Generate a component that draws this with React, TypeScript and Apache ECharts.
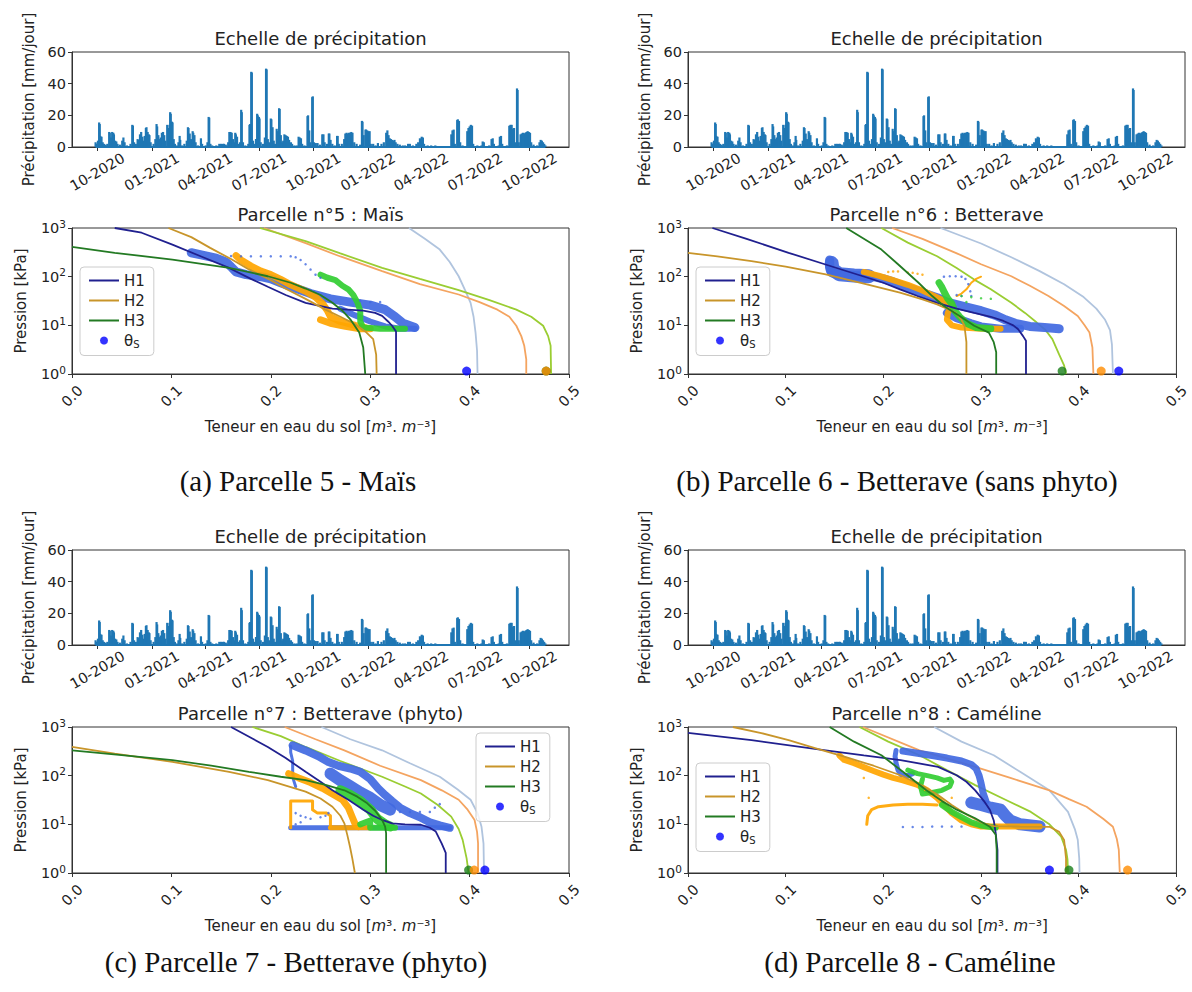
import React, { useEffect, useRef } from "react";
import * as echarts from "echarts";

type Pt = [number, number];

// ---------------- Precipitation (mm/jour), same series in the four panels ----------------
const PRECIP: [string, number][] = [
  ["2020-09-28",3],["2020-09-30",2],["2020-10-02",4],["2020-10-04",15.5],["2020-10-05",14.5],["2020-10-06",7],["2020-10-08",6.5],["2020-10-10",3],["2020-10-12",2],["2020-10-15",1.5],["2020-10-18",2],["2020-10-21",9.5],["2020-10-22",9],["2020-10-24",6],["2020-10-26",9.5],["2020-10-28",9],["2020-10-29",8],["2020-10-31",4],["2020-11-02",3.5],["2020-11-04",2],["2020-11-08",1.5],["2020-11-12",4],["2020-11-14",6],["2020-11-16",3],["2020-11-20",1],["2020-11-26",2],["2020-11-29",14],["2020-11-30",13.5],["2020-12-02",3],["2020-12-05",2],["2020-12-08",5],["2020-12-10",4.5],["2020-12-12",8],["2020-12-14",9.5],["2020-12-16",6.5],["2020-12-18",4],["2020-12-20",7],["2020-12-22",12],["2020-12-23",12.5],["2020-12-25",9.5],["2020-12-27",8],["2020-12-28",7.5],["2020-12-30",3],
  ["2021-01-04",2],["2021-01-07",5],["2021-01-09",14.5],["2021-01-10",13],["2021-01-12",7.5],["2021-01-14",5],["2021-01-16",6],["2021-01-18",9],["2021-01-20",9.5],["2021-01-22",7.5],["2021-01-24",4],["2021-01-27",14],["2021-01-29",12],["2021-01-31",14],["2021-02-01",22],["2021-02-02",21],["2021-02-04",16],["2021-02-05",15.5],["2021-02-07",5],["2021-02-09",2],["2021-02-12",1],["2021-02-15",3],["2021-02-17",7],["2021-02-18",4.5],["2021-02-21",1],["2021-02-25",2],["2021-03-01",4],["2021-03-03",12.5],["2021-03-04",12],["2021-03-06",8.5],["2021-03-08",5],["2021-03-11",10],["2021-03-12",9],["2021-03-14",7.5],["2021-03-16",3],["2021-03-20",1],["2021-03-25",5.5],["2021-03-27",2],["2021-04-02",1],["2021-04-05",3],["2021-04-07",19],["2021-04-08",18.5],["2021-04-10",2],["2021-04-13",1],
  ["2021-04-20",1],["2021-04-25",2],["2021-04-28",2],["2021-05-01",2],["2021-05-03",2],["2021-05-06",1.5],["2021-05-10",3],["2021-05-12",9.5],["2021-05-14",9.5],["2021-05-16",9],["2021-05-18",5],["2021-05-20",3],["2021-05-22",9],["2021-05-23",8],["2021-05-25",6.5],["2021-05-27",2],["2021-05-30",3],["2021-06-01",23.5],["2021-06-02",22],["2021-06-04",3],["2021-06-08",1],["2021-06-13",2],["2021-06-15",14],["2021-06-16",14.5],["2021-06-18",47.5],["2021-06-19",47],["2021-06-21",4],["2021-06-23",2],["2021-06-26",5],["2021-06-28",21],["2021-06-29",20],["2021-07-01",19],["2021-07-02",18],["2021-07-04",3],["2021-07-08",2],["2021-07-11",6],["2021-07-13",49.5],["2021-07-14",49],["2021-07-16",5],["2021-07-18",3],["2021-07-21",18],["2021-07-22",17.5],["2021-07-24",12.5],["2021-07-26",4],["2021-07-28",2],["2021-07-31",11.5],["2021-08-02",10],["2021-08-04",24.5],["2021-08-05",24],["2021-08-07",7.5],["2021-08-09",3],["2021-08-11",4],["2021-08-13",8],["2021-08-15",7.5],["2021-08-17",7],["2021-08-19",6.5],["2021-08-21",4.5],["2021-08-24",3],["2021-08-26",2],["2021-08-30",1],["2021-09-03",1],["2021-09-06",6.5],["2021-09-08",6],["2021-09-10",5.5],["2021-09-12",2],["2021-09-16",1],["2021-09-21",19.5],["2021-09-22",20],["2021-09-24",10.5],["2021-09-26",3],["2021-09-29",31.5],["2021-09-30",32],["2021-10-02",3],["2021-10-05",2.5],["2021-10-08",2.5],["2021-10-12",1.5],["2021-10-16",8],["2021-10-18",8],["2021-10-20",3],["2021-10-24",2],["2021-10-27",8.5],["2021-10-28",8.5],["2021-10-30",4.5],["2021-11-02",2],["2021-11-06",1],["2021-11-10",7],["2021-11-11",7],["2021-11-13",2],["2021-11-18",2],["2021-11-22",5],["2021-11-24",8.5],["2021-11-26",9],["2021-11-28",8.5],["2021-11-30",9],["2021-12-02",9],["2021-12-04",9.5],["2021-12-06",9],["2021-12-09",3],["2021-12-13",2],["2021-12-19",1.5],["2021-12-22",16.5],["2021-12-23",16],["2021-12-25",7.5],["2021-12-28",11],["2021-12-29",11],["2021-12-31",10.5],
  ["2022-01-02",10],["2022-01-04",10],["2022-01-06",2],["2022-01-10",2],["2022-01-14",1],["2022-01-18",2.5],["2022-01-24",2],["2022-01-28",3],["2022-02-01",9],["2022-02-03",10.5],["2022-02-05",7.5],["2022-02-07",5.5],["2022-02-09",5],["2022-02-11",4.5],["2022-02-13",4],["2022-02-15",4.5],["2022-02-17",3],["2022-02-20",2],["2022-02-24",1.5],["2022-03-01",1],["2022-03-05",1],["2022-03-10",2],["2022-03-13",2],["2022-03-18",1],["2022-03-24",2],["2022-03-27",3],["2022-03-30",5.5],["2022-04-02",6.5],["2022-04-04",6],["2022-04-06",2],["2022-04-12",1],["2022-04-18",1],["2022-04-25",1],["2022-05-05",0.5],["2022-05-15",0.5],["2022-05-22",8],["2022-05-24",10.5],["2022-05-26",11],["2022-05-28",2],["2022-06-01",17],["2022-06-02",17.5],["2022-06-04",16.5],["2022-06-06",3],["2022-06-10",1],["2022-06-18",10],["2022-06-20",12],["2022-06-22",13],["2022-06-24",14],["2022-06-26",13.5],["2022-06-28",2],["2022-07-05",1],["2022-07-12",1],["2022-07-14",3.5],["2022-07-16",3],["2022-07-25",1],["2022-07-29",5],["2022-07-31",5.5],["2022-08-02",2],["2022-08-10",1],["2022-08-12",6.5],["2022-08-14",7],["2022-08-16",2],["2022-08-24",1],["2022-08-28",13.5],["2022-08-30",14],["2022-09-01",14],["2022-09-03",11.5],["2022-09-05",12],["2022-09-07",3],["2022-09-10",37],["2022-09-11",36],["2022-09-13",3],["2022-09-16",8],["2022-09-18",8.5],["2022-09-20",9],["2022-09-22",8.5],["2022-09-24",9],["2022-09-26",9.5],["2022-09-28",10],["2022-09-30",9.5],["2022-10-02",9],["2022-10-04",3],["2022-10-08",1.5],["2022-10-14",1],["2022-10-18",3],["2022-10-20",4.5],["2022-10-22",4],["2022-10-24",3],["2022-10-26",2],["2022-10-28",1]
];
const PRECIP_SPAN: [string, string] = ["2020-09-28", "2022-10-28"];
const TIME_MIN = "2020-08-21";
const TIME_MAX = "2022-12-05";
const PRECIP_Y_TICKS = [0, 20, 40, 60];
const THETA_TICKS = [0, 0.1, 0.2, 0.3, 0.4, 0.5];

// ---------------- Parcelle 5 : Maïs ----------------
const P5_FIT_H1: Pt[] = [[0.043,1000],[0.07,800],[0.101,457],[0.13,260],[0.158,151],[0.18,90],[0.197,62],[0.215,42],[0.235,29],[0.262,22],[0.293,20],[0.305,18],[0.312,15.6],[0.318,12],[0.322,9.8],[0.326,7.5],[0.326,1]];
const P5_FIT_H2: Pt[] = [[0.097,1000],[0.12,650],[0.139,390],[0.16,230],[0.178,141],[0.2,85],[0.216,55],[0.235,35],[0.255,21],[0.27,15],[0.285,10.5],[0.295,7.5],[0.303,5.2],[0.306,2.5],[0.3065,1]];
const P5_FIT_H3: Pt[] = [[0,410],[0.043,309],[0.101,225],[0.158,152],[0.197,102],[0.22,75],[0.235,57],[0.25,42],[0.262,29],[0.272,20],[0.28,13.3],[0.289,7.1],[0.293,3.5],[0.295,1]];
const P5_REF_H1: Pt[] = [[0.339,1000],[0.355,600],[0.37,360],[0.38,200],[0.389,102],[0.396,50],[0.401,29],[0.404,15],[0.406,7],[0.4075,3],[0.408,1]];
const P5_REF_H2: Pt[] = [[0.193,1000],[0.235,490],[0.27,260],[0.312,130],[0.35,70],[0.389,43],[0.41,30],[0.428,21],[0.44,15],[0.447,9.8],[0.452,6],[0.455,3.8],[0.457,2],[0.457,1]];
const P5_REF_H3: Pt[] = [[0.189,1000],[0.235,535],[0.27,300],[0.312,152],[0.35,90],[0.389,53],[0.42,33],[0.447,21],[0.462,15],[0.474,9.8],[0.479,6],[0.4815,3.8],[0.482,1]];
const P5_OBS_H1: Pt[] = [[0.12,310],[0.13,280],[0.145,240],[0.155,200],[0.16,160],[0.165,125],[0.175,110],[0.19,100],[0.2,90],[0.21,75],[0.225,58],[0.24,45],[0.26,35],[0.28,30],[0.3,26],[0.315,21],[0.325,15],[0.333,11],[0.345,9]];
const P5_OBS_H1_LOW: Pt[] = [[0.27,22],[0.285,16],[0.3,12],[0.315,9.5],[0.33,8.5],[0.345,8.5]];
const P5_SPARSE_H1: Pt[] = [[0.16,265],[0.17,262],[0.18,262],[0.19,262],[0.2,262],[0.21,262],[0.22,262],[0.225,250],[0.23,220],[0.235,180],[0.24,140],[0.245,110],[0.25,95],[0.29,32],[0.3,30],[0.31,30]];
const P5_OBS_H2: Pt[] = [[0.165,270],[0.17,220],[0.18,165],[0.19,130],[0.2,110],[0.21,88],[0.22,68],[0.235,50],[0.245,38],[0.252,28],[0.257,20],[0.26,15],[0.27,12],[0.285,10],[0.295,9]];
const P5_OBS_H2_LOW: Pt[] = [[0.25,13],[0.26,11],[0.275,9.5],[0.29,8.5],[0.3,8.5]];
const P5_OBS_H3: Pt[] = [[0.25,110],[0.257,95],[0.265,85],[0.272,65],[0.278,55],[0.283,42],[0.287,30],[0.29,20],[0.29,12],[0.293,9],[0.31,8.5],[0.335,8.5]];
const P5_THETA_S = [0.397, 0.477, 0.477]; // H1, H2, H3

// ---------------- Parcelle 6 : Betterave ----------------
const P6_FIT_H1: Pt[] = [[0.025,1000],[0.06,600],[0.103,309],[0.14,180],[0.179,102],[0.2,75],[0.217,55],[0.235,40],[0.255,29],[0.275,22],[0.293,18],[0.31,15],[0.323,12.3],[0.333,10],[0.338,8.3],[0.343,6],[0.346,4.8],[0.346,1]];
const P6_FIT_H2: Pt[] = [[0,309],[0.03,260],[0.065,209],[0.1,160],[0.141,111],[0.18,72],[0.217,47],[0.24,34],[0.255,27],[0.265,22],[0.274,18],[0.28,13],[0.283,9.8],[0.285,4.5],[0.285,1]];
const P6_FIT_H3: Pt[] = [[0.162,1000],[0.18,600],[0.198,360],[0.215,180],[0.236,75],[0.25,40],[0.262,25],[0.278,15.6],[0.293,9.8],[0.308,7.1],[0.313,4.5],[0.3155,2.8],[0.3155,1]];
const P6_REF_H1: Pt[] = [[0.2586,1000],[0.3,480],[0.331,250],[0.36,130],[0.385,70],[0.405,38],[0.418,22],[0.427,13],[0.432,8],[0.434,4],[0.435,1]];
const P6_REF_H2: Pt[] = [[0.209,1000],[0.24,600],[0.274,309],[0.3,180],[0.331,102],[0.35,65],[0.369,40],[0.385,25],[0.399,15.6],[0.406,10],[0.411,7.1],[0.414,3.5],[0.415,1]];
const P6_REF_H3: Pt[] = [[0.198,1000],[0.225,500],[0.255,263],[0.275,150],[0.293,87],[0.31,55],[0.331,29],[0.345,18],[0.357,11.4],[0.366,8],[0.373,5.2],[0.38,2.5],[0.385,1.5],[0.387,1]];
const P6_OBS_H1_BLOCK: Pt[] = [[0.147,190],[0.148,140],[0.155,112],[0.17,106],[0.185,102]];
const P6_OBS_H1: Pt[] = [[0.145,220],[0.145,160],[0.147,120],[0.16,108],[0.175,104],[0.19,100],[0.2,90],[0.21,78],[0.225,60],[0.24,47],[0.255,37],[0.265,30],[0.28,25],[0.3,20],[0.315,16],[0.325,13],[0.335,11],[0.35,9.5],[0.365,9],[0.38,8.5]];
const P6_OBS_H1_LOW: Pt[] = [[0.265,18],[0.275,14],[0.29,11],[0.3,9.5],[0.32,8.5],[0.34,8.5]];
const P6_SPARSE_H1: Pt[] = [[0.262,100],[0.268,102],[0.274,102],[0.28,100],[0.284,90],[0.287,70],[0.289,50],[0.29,40],[0.275,42],[0.28,40]];
const P6_OBS_H2: Pt[] = [[0.18,125],[0.195,105],[0.21,85],[0.225,68],[0.24,52],[0.252,40],[0.262,32],[0.27,26],[0.266,18],[0.265,13],[0.27,10],[0.28,9],[0.3,8.5],[0.32,8.5]];
const P6_OBS_H2_TAIL: Pt[] = [[0.275,40],[0.28,45],[0.285,55],[0.29,75],[0.295,90],[0.3,100]];
const P6_SPARSE_H2: Pt[] = [[0.205,125],[0.21,128],[0.215,128],[0.225,122],[0.23,120],[0.235,115],[0.24,110]];
const P6_OBS_H3: Pt[] = [[0.257,75],[0.26,60],[0.263,45],[0.266,35],[0.27,28],[0.273,20],[0.278,15],[0.285,11],[0.295,9],[0.31,8.5]];
const P6_SPARSE_H3: Pt[] = [[0.28,40],[0.29,38],[0.3,36],[0.31,35],[0.285,30]];
const P6_THETA_S = [0.441, 0.423, 0.383];

// ---------------- Parcelle 7 : Betterave (phyto) ----------------
const P7_FIT_H1: Pt[] = [[0.16,1000],[0.18,600],[0.197,389],[0.215,230],[0.235,120],[0.25,75],[0.262,50],[0.278,32],[0.293,20],[0.303,15],[0.312,12.3],[0.322,10.5],[0.335,10],[0.351,9.8],[0.36,8.5],[0.366,7.1],[0.372,4],[0.376,2.6],[0.376,1]];
const P7_FIT_H2: Pt[] = [[0,389],[0.043,285],[0.101,192],[0.158,120],[0.197,81],[0.235,47],[0.25,34],[0.262,23],[0.27,15],[0.274,10.5],[0.277,6],[0.2796,3.5],[0.282,2],[0.2846,1]];
const P7_FIT_H3: Pt[] = [[0,332],[0.05,265],[0.101,209],[0.14,160],[0.178,120],[0.21,95],[0.235,81],[0.255,65],[0.274,50],[0.287,37],[0.297,27],[0.305,19],[0.312,12.3],[0.315,9],[0.316,6.6],[0.316,1]];
const P7_REF_H1: Pt[] = [[0.251,1000],[0.28,560],[0.312,332],[0.34,180],[0.37,95],[0.388,52],[0.401,32],[0.408,17],[0.412,8.9],[0.414,4],[0.4145,1]];
const P7_REF_H2: Pt[] = [[0.214,1000],[0.245,560],[0.274,332],[0.31,160],[0.351,81],[0.372,50],[0.389,32],[0.398,20],[0.405,12.3],[0.4075,7],[0.4085,4.1],[0.4085,1]];
const P7_REF_H3: Pt[] = [[0.1815,1000],[0.21,650],[0.235,389],[0.27,200],[0.312,95],[0.335,60],[0.351,43],[0.368,25],[0.3815,14.4],[0.389,8],[0.393,4.8],[0.397,2],[0.399,1]];
const P7_OBS_H1: Pt[] = [[0.222,420],[0.235,330],[0.248,250],[0.258,190],[0.268,160],[0.28,140],[0.29,120],[0.3,85],[0.308,55],[0.315,40],[0.322,30],[0.33,22],[0.34,17],[0.35,14],[0.36,11],[0.37,9.5],[0.38,8.5]];
const P7_OBS_H1_BLOB: Pt[] = [[0.26,110],[0.27,80],[0.28,60],[0.29,45],[0.3,35],[0.31,25],[0.32,20]];
const P7_OBS_H1_LOW: Pt[] = [[0.22,8.5],[0.25,8.5],[0.28,8.5],[0.31,8.5],[0.34,8.5],[0.38,8.5]];
const P7_OBS_H1_VERT: Pt[] = [[0.22,400],[0.22,300],[0.222,200],[0.222,120],[0.223,80],[0.225,60]];
const P7_SPARSE_H1: Pt[] = [[0.225,17],[0.23,15],[0.235,14],[0.24,13],[0.25,14],[0.255,15],[0.258,17],[0.33,18],[0.34,18],[0.35,18],[0.36,18],[0.365,22],[0.37,26],[0.225,10],[0.23,11]];
const P7_OBS_H2: Pt[] = [[0.218,110],[0.228,90],[0.24,72],[0.252,55],[0.262,42],[0.272,32],[0.278,22],[0.282,14],[0.285,10],[0.288,9]];
const P7_OBS_H2_STEP: Pt[] = [[0.22,8.5],[0.22,15],[0.22,30],[0.232,30],[0.242,30],[0.242,20],[0.247,17],[0.256,17],[0.26,15],[0.26,9]];
const P7_OBS_H2_LOW: Pt[] = [[0.26,8.5],[0.27,8.5],[0.285,8.5],[0.3,8.5]];
const P7_OBS_H3: Pt[] = [[0.27,50],[0.28,40],[0.29,30],[0.3,20],[0.307,13],[0.315,10],[0.32,9]];
const P7_OBS_H3_LOW: Pt[] = [[0.29,10],[0.3,12],[0.3,8.5],[0.325,8.5]];
const P7_THETA_S = [0.4154, 0.4046, 0.399];

// ---------------- Parcelle 8 : Caméline ----------------
const P8_FIT_H1: Pt[] = [[0,754],[0.065,535],[0.141,332],[0.18,260],[0.2176,209],[0.256,152],[0.275,102],[0.285,75],[0.294,50],[0.303,30],[0.309,20],[0.313,12],[0.315,6.6],[0.3168,3],[0.3168,1]];
const P8_FIT_H2: Pt[] = [[0.046,1000],[0.075,750],[0.103,535],[0.13,370],[0.16,245],[0.19,160],[0.2176,102],[0.24,62],[0.256,40],[0.27,25],[0.286,15.6],[0.3,11],[0.313,9.2],[0.34,9],[0.37,8.9],[0.38,7],[0.385,4.8],[0.387,2],[0.387,1]];
const P8_FIT_H3: Pt[] = [[0.145,1000],[0.17,500],[0.198,263],[0.22,120],[0.244,50],[0.26,30],[0.275,20],[0.294,13.3],[0.309,8.9],[0.315,6.1],[0.316,3],[0.316,1]];
const P8_REF_H1: Pt[] = [[0.252,1000],[0.28,500],[0.313,263],[0.34,120],[0.37,50],[0.389,18],[0.396,8],[0.399,4.8],[0.4005,2],[0.4008,1]];
const P8_REF_H2: Pt[] = [[0.179,1000],[0.237,332],[0.294,152],[0.33,90],[0.37,50],[0.39,33],[0.408,23],[0.425,13],[0.435,8.9],[0.439,5],[0.441,3],[0.442,1]];
const P8_REF_H3: Pt[] = [[0.1756,1000],[0.205,500],[0.237,263],[0.265,130],[0.294,64],[0.325,32],[0.351,18],[0.37,10],[0.382,5.6],[0.387,3],[0.3885,1.9],[0.389,1]];
const P8_OBS_H1_LOOP: Pt[] = [[0.213,330],[0.212,250],[0.213,180],[0.215,130],[0.218,105],[0.225,100],[0.23,110]];
const P8_OBS_H1: Pt[] = [[0.22,320],[0.235,290],[0.25,260],[0.265,230],[0.28,200],[0.29,170],[0.295,140],[0.298,100],[0.3,70],[0.302,45],[0.305,30]];
const P8_OBS_H1_BLOB: Pt[] = [[0.29,28],[0.3,25],[0.31,22],[0.32,20],[0.325,15],[0.33,12],[0.34,10],[0.36,9]];
const P8_SPARSE_H1: Pt[] = [[0.22,8.8],[0.23,8.8],[0.24,8.8],[0.25,9],[0.26,9],[0.27,9],[0.28,9]];
const P8_OBS_H2: Pt[] = [[0.155,260],[0.16,210],[0.17,180],[0.18,150],[0.19,125],[0.2,105],[0.21,90],[0.22,80],[0.235,65],[0.245,50],[0.255,35],[0.262,25],[0.27,17],[0.28,12],[0.29,10],[0.3,9],[0.33,9],[0.36,9]];
const P8_OBS_H2_HOOK: Pt[] = [[0.183,10],[0.184,15],[0.188,20],[0.195,23],[0.21,25],[0.225,26],[0.24,26],[0.255,25]];
const P8_SPARSE_H2: Pt[] = [[0.18,90],[0.185,35],[0.27,35]];
const P8_OBS_H3_LOOP: Pt[] = [[0.225,130],[0.235,110],[0.245,100],[0.255,90],[0.262,80],[0.268,85],[0.27,75],[0.268,60],[0.26,50],[0.25,45],[0.24,42],[0.238,60],[0.24,85]];
const P8_OBS_H3_LOW: Pt[] = [[0.26,25],[0.27,18],[0.28,14],[0.29,11],[0.3,9.5],[0.315,8.5]];
const P8_THETA_S = [0.370, 0.450, 0.390];

// ---------------- styling ----------------
const COLORS = {
  precip: "#1f77b4",
  fit: ["#20208f", "#c8952a", "#237a23"],
  ref: ["#b0c4de", "#f4a460", "#9acd32"],
  obs: ["#4169e1", "#ffa500", "#32cd32"],
  dot: ["#0000ff", "#ff8c00", "#1a801a"],
};
const FONT = "DejaVu Sans";
const TXT = "#222";
const FS_TICK = 14.5;
const FS_LABEL = 15;
const FS_TITLE = 18;

interface Band { data: Pt[]; h: number; w: number; }
interface PanelDef {
  title: string; caption: string;
  fit: Pt[][]; ref: Pt[][]; bands: Band[]; sparse: { data: Pt[]; h: number }[];
  thetaS: number[]; legend: { left: number; top: number }; capX: number;
}

const PANELS: PanelDef[] = [
  {
    title: "Parcelle n°5 : Maïs", caption: "(a) Parcelle 5 - Maïs", capX: 298,
    fit: [P5_FIT_H1, P5_FIT_H2, P5_FIT_H3], ref: [P5_REF_H1, P5_REF_H2, P5_REF_H3],
    bands: [
      { data: P5_OBS_H1, h: 0, w: 9 }, { data: P5_OBS_H1_LOW, h: 0, w: 6 },
      { data: P5_OBS_H2, h: 1, w: 7 }, { data: P5_OBS_H2_LOW, h: 1, w: 7 },
      { data: P5_OBS_H3, h: 2, w: 6 },
    ],
    sparse: [{ data: P5_SPARSE_H1, h: 0 }],
    thetaS: P5_THETA_S, legend: { left: 80, top: 267 },
  },
  {
    title: "Parcelle n°6 : Betterave", caption: "(b) Parcelle 6 - Betterave (sans phyto)", capX: 897,
    fit: [P6_FIT_H1, P6_FIT_H2, P6_FIT_H3], ref: [P6_REF_H1, P6_REF_H2, P6_REF_H3],
    bands: [
      { data: P6_OBS_H1_BLOCK, h: 0, w: 14 },
      { data: P6_OBS_H1, h: 0, w: 9 }, { data: P6_OBS_H1_LOW, h: 0, w: 8 },
      { data: P6_OBS_H2, h: 1, w: 6 }, { data: P6_OBS_H2_TAIL, h: 1, w: 2 },
      { data: P6_OBS_H3, h: 2, w: 7 },
    ],
    sparse: [{ data: P6_SPARSE_H1, h: 0 }, { data: P6_SPARSE_H2, h: 1 }, { data: P6_SPARSE_H3, h: 2 }],
    thetaS: P6_THETA_S, legend: { left: 696, top: 267 },
  },
  {
    title: "Parcelle n°7 : Betterave (phyto)", caption: "(c) Parcelle 7 - Betterave (phyto)", capX: 296,
    fit: [P7_FIT_H1, P7_FIT_H2, P7_FIT_H3], ref: [P7_REF_H1, P7_REF_H2, P7_REF_H3],
    bands: [
      { data: P7_OBS_H1, h: 0, w: 8 }, { data: P7_OBS_H1_BLOB, h: 0, w: 12 },
      { data: P7_OBS_H1_LOW, h: 0, w: 5 }, { data: P7_OBS_H1_VERT, h: 0, w: 3 },
      { data: P7_OBS_H2, h: 1, w: 7 }, { data: P7_OBS_H2_STEP, h: 1, w: 3 }, { data: P7_OBS_H2_LOW, h: 1, w: 5 },
      { data: P7_OBS_H3, h: 2, w: 10 }, { data: P7_OBS_H3_LOW, h: 2, w: 6 },
    ],
    sparse: [{ data: P7_SPARSE_H1, h: 0 }],
    thetaS: P7_THETA_S, legend: { left: 476, top: 733 },
  },
  {
    title: "Parcelle n°8 : Caméline", caption: "(d) Parcelle 8 - Caméline", capX: 910,
    fit: [P8_FIT_H1, P8_FIT_H2, P8_FIT_H3], ref: [P8_REF_H1, P8_REF_H2, P8_REF_H3],
    bands: [
      { data: P8_OBS_H1_LOOP, h: 0, w: 5 }, { data: P8_OBS_H1, h: 0, w: 7 }, { data: P8_OBS_H1_BLOB, h: 0, w: 12 },
      { data: P8_OBS_H2, h: 1, w: 6 }, { data: P8_OBS_H2_HOOK, h: 1, w: 3 },
      { data: P8_OBS_H3_LOOP, h: 2, w: 5 }, { data: P8_OBS_H3_LOW, h: 2, w: 6 },
    ],
    sparse: [{ data: P8_SPARSE_H1, h: 0 }, { data: P8_SPARSE_H2, h: 1 }],
    thetaS: P8_THETA_S, legend: { left: 696, top: 763 },
  },
];

// layout
const COL_LEFT = [72, 688];
const PLOT_W = 497;
const ROWS = [
  { precipTop: 52, retTop: 228, capY: 481 },
  { precipTop: 550, retTop: 727, capY: 962 },
];
const PRECIP_H = 95;
const RET_H = 146;

function buildOption() {
  const grid: any[] = [], xAxis: any[] = [], yAxis: any[] = [], series: any[] = [], legend: any[] = [], graphic: any[] = [];
  const axisLine = { show: true, lineStyle: { color: "#333", width: 1 } };
  const axisTick = { show: true, length: 4, lineStyle: { color: "#333" } };
  const frame = { show: true, borderColor: "#333", borderWidth: 1, backgroundColor: "transparent" };

  PANELS.forEach((p, i) => {
    const col = i % 2, row = Math.floor(i / 2);
    const left = COL_LEFT[col];
    const r = ROWS[row];
    const gP = grid.length;
    const gR = gP + 1;
    grid.push({ left, top: r.precipTop, width: PLOT_W, height: PRECIP_H, ...frame });
    grid.push({ left, top: r.retTop, width: PLOT_W, height: RET_H, ...frame });

    // precipitation axes
    xAxis.push({
      type: "time", gridIndex: gP, min: TIME_MIN, max: TIME_MAX, splitNumber: 9,
      axisLine, axisTick, splitLine: { show: false },
      axisLabel: {
        rotate: 30, align: "center", verticalAlign: "middle", margin: 25,
        color: TXT, fontSize: FS_TICK, fontFamily: FONT, showMinLabel: false, showMaxLabel: false,
        formatter: (v: number) => {
          const d = new Date(v);
          return String(d.getMonth() + 1).padStart(2, "0") + "-" + d.getFullYear();
        },
      },
    });
    yAxis.push({
      type: "value", gridIndex: gP, min: PRECIP_Y_TICKS[0], max: PRECIP_Y_TICKS[PRECIP_Y_TICKS.length - 1], interval: 20,
      axisLine, axisTick, splitLine: { show: false },
      axisLabel: { color: TXT, fontSize: FS_TICK, fontFamily: FONT, margin: 6 },
      name: "Précipitation [mm/jour]", nameLocation: "middle", nameGap: 36, nameRotate: 90,
      nameTextStyle: { color: TXT, fontSize: FS_LABEL, fontFamily: FONT },
    });
    // retention axes
    xAxis.push({
      type: "value", gridIndex: gR, min: THETA_TICKS[0], max: THETA_TICKS[THETA_TICKS.length - 1], interval: 0.1,
      axisLine, axisTick, splitLine: { show: false },
      axisLabel: {
        rotate: 45, align: "center", verticalAlign: "middle", margin: 22,
        color: TXT, fontSize: FS_TICK, fontFamily: FONT, formatter: (v: number) => v.toFixed(1),
      },
      name: "Teneur en eau du sol [{i|m}³. {i|m}⁻³]", nameLocation: "middle", nameGap: 45,
      nameTextStyle: { color: TXT, fontSize: FS_LABEL, fontFamily: FONT, rich: { i: { fontStyle: "italic", fontSize: FS_LABEL, fontFamily: FONT, color: TXT } } },
    });
    yAxis.push({
      type: "log", logBase: 10, gridIndex: gR, min: 1, max: 1000,
      axisLine, axisTick, splitLine: { show: false }, minorTick: { show: false },
      axisLabel: {
        color: TXT, fontSize: FS_TICK, fontFamily: FONT, margin: 6,
        formatter: (v: number) => "{b|10}{s|" + Math.round(Math.log10(v)) + "}",
        rich: {
          b: { fontSize: FS_TICK, fontFamily: FONT, color: TXT, lineHeight: 20, verticalAlign: "middle" },
          s: { fontSize: 10.5, fontFamily: FONT, color: TXT, lineHeight: 12, verticalAlign: "top" },
        },
      },
      name: "Pression [kPa]", nameLocation: "middle", nameGap: 44, nameRotate: 90,
      nameTextStyle: { color: TXT, fontSize: FS_LABEL, fontFamily: FONT },
    });

    // precipitation series
    series.push({
      type: "line", name: "precip-base-" + i, xAxisIndex: gP, yAxisIndex: gP, silent: true,
      data: [[PRECIP_SPAN[0], 0], [PRECIP_SPAN[1], 0]], symbol: "none",
      lineStyle: { color: COLORS.precip, width: 1.8 }, itemStyle: { color: COLORS.precip }, z: 2,
    });
    series.push({
      type: "bar", name: "precip-" + i, xAxisIndex: gP, yAxisIndex: gP, silent: true,
      data: PRECIP, barWidth: 2.2, itemStyle: { color: COLORS.precip }, z: 3,
    });

    // reference (light) curves
    p.ref.forEach((d, h) => series.push({
      type: "line", name: `ref-${i}-${h}`, xAxisIndex: gR, yAxisIndex: gR, silent: true,
      data: d, symbol: "none", lineStyle: { color: COLORS.ref[h], width: 1.8 }, itemStyle: { color: COLORS.ref[h] }, z: 2,
    }));
    // observation clouds
    p.bands.forEach((b, k) => series.push({
      type: "line", name: `obs-${i}-${k}`, xAxisIndex: gR, yAxisIndex: gR, silent: true,
      data: b.data, symbol: "none",
      lineStyle: { color: COLORS.obs[b.h], width: b.w, cap: "round", join: "round", opacity: 0.92 },
      itemStyle: { color: COLORS.obs[b.h] }, z: 3,
    }));
    p.sparse.forEach((s, k) => series.push({
      type: "scatter", name: `sparse-${i}-${k}`, xAxisIndex: gR, yAxisIndex: gR, silent: true,
      data: s.data, symbolSize: 2.5, itemStyle: { color: COLORS.obs[s.h] }, z: 3,
    }));
    // fitted curves
    p.fit.forEach((d, h) => series.push({
      type: "line", name: "H" + (h + 1), xAxisIndex: gR, yAxisIndex: gR, silent: true,
      data: d, symbol: "none", lineStyle: { color: COLORS.fit[h], width: 1.8 }, itemStyle: { color: COLORS.fit[h] }, z: 5,
    }));
    // saturated water contents (drawn H3, H2, then H1)
    [2, 1, 0].forEach((h) => series.push({
      type: "scatter", name: h === 0 ? "θs" : `θs-${i}-${h}`, xAxisIndex: gR, yAxisIndex: gR, silent: true,
      data: [[p.thetaS[h], 1.15]], symbolSize: 9, clip: false,
      itemStyle: { color: COLORS.dot[h] }, z: 6,
    }));

    legend.push({
      orient: "vertical", left: p.legend.left, top: p.legend.top,
      data: [
        { name: "H1", itemStyle: { opacity: 0 } },
        { name: "H2", itemStyle: { opacity: 0 } },
        { name: "H3", itemStyle: { opacity: 0 } },
        { name: "θs", icon: "circle" },
      ],
      itemWidth: 30, itemHeight: 8, itemGap: 5, selectedMode: false,
      padding: [6, 9, 6, 8], backgroundColor: "rgba(255,255,255,0.8)",
      borderColor: "#cccccc", borderWidth: 1, borderRadius: 4,
      textStyle: {
        color: TXT, fontSize: FS_LABEL, fontFamily: FONT,
        rich: { t: { fontSize: FS_LABEL, fontFamily: FONT, color: TXT }, s: { fontSize: 10, fontFamily: FONT, color: TXT, padding: [8, 0, 0, 0] } },
      },
      formatter: (n: string) => (n === "θs" ? "{t|θ}{s|S}" : n),
    });

    const cx = left + PLOT_W / 2;
    graphic.push({
      type: "text", x: cx, y: r.precipTop - 14,
      style: { text: "Echelle de précipitation", fill: TXT, fontSize: FS_TITLE, fontFamily: FONT, align: "center", verticalAlign: "middle" },
    });
    graphic.push({
      type: "text", x: cx, y: r.retTop - 14,
      style: { text: p.title, fill: TXT, fontSize: FS_TITLE, fontFamily: FONT, align: "center", verticalAlign: "middle" },
    });
    graphic.push({
      type: "text", x: p.capX, y: r.capY,
      style: { text: p.caption, fill: "#111", fontSize: 29, fontFamily: "Liberation Serif", align: "center", verticalAlign: "middle" },
    });
  });

  return {
    animation: false,
    backgroundColor: "#ffffff",
    textStyle: { fontFamily: FONT },
    grid, xAxis, yAxis, series, legend, graphic,
  };
}

export default function App() {
  const ref = useRef<HTMLDivElement>(null);
  useEffect(() => {
    document.body.style.margin = "0";
    if (!ref.current) return;
    const chart = echarts.init(ref.current, undefined, { renderer: "svg" });
    chart.setOption(buildOption() as any);
    return () => chart.dispose();
  }, []);
  return <div ref={ref} style={{ width: 1192, height: 992 }} />;
}
